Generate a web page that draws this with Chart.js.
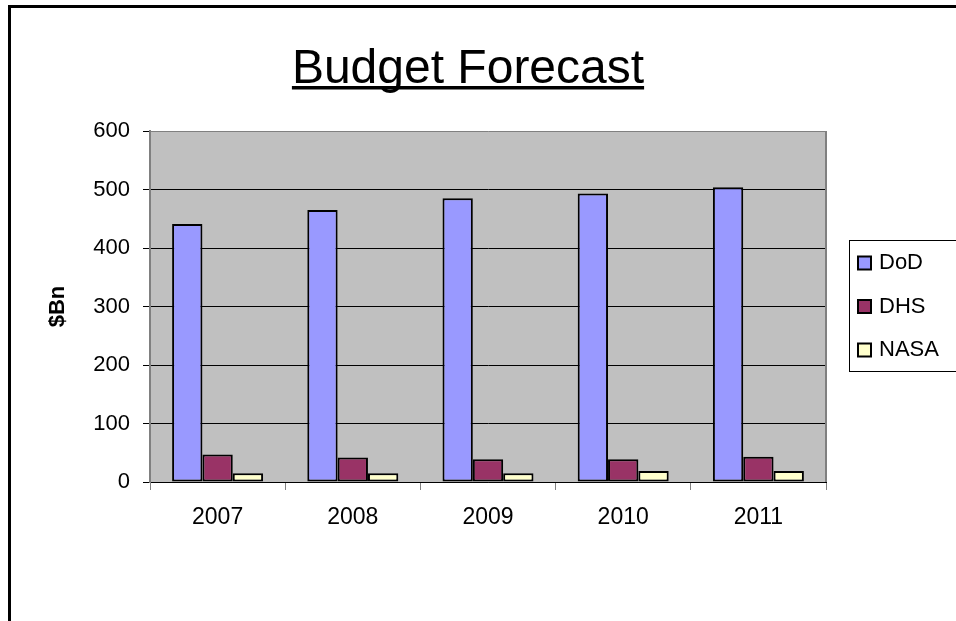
<!DOCTYPE html>
<html>
<head>
<meta charset="utf-8">
<title>Budget Forecast</title>
<script src="https://cdn.jsdelivr.net/npm/chart.js@4.4.1/dist/chart.umd.min.js"></script>
<style>
  html, body { margin: 0; padding: 0; background: #fff; }
  #wrap { position: relative; width: 956px; height: 621px; overflow: hidden; }
  #frame { position: absolute; left: 8px; top: 5px; width: 1000px; height: 700px;
           border-left: 3px solid #000; border-top: 3px solid #000; }
  #budgetChart { position: absolute; left: 0; top: 0; }
</style>
</head>
<body>
<div id="wrap">
  <div id="frame"></div>
  <canvas id="budgetChart" width="956" height="621"></canvas>
</div>
<script>
const years = ['2007', '2008', '2009', '2010', '2011'];
const dodValues = [441, 465, 485, 493, 504];
const dhsValues = [47, 42, 39, 39, 43];
const nasaValues = [15, 15, 15, 19, 19];
const yMin = 0;
const yMax = 600;
const yStep = 100;

const FONT = "'Liberation Sans', Arial, sans-serif";
Chart.defaults.font.family = FONT;
Chart.defaults.color = '#000';

// grey plot area + right border line
const plotArea = {
    id: 'plotArea',
    beforeDraw(chart) {
        const { ctx, chartArea: a } = chart;
        ctx.save();
        ctx.fillStyle = '#c0c0c0';
        ctx.fillRect(a.left, a.top, a.right - a.left, a.bottom - a.top);
        ctx.restore();
    },
    beforeDatasetsDraw(chart) {
        const { ctx, chartArea: a } = chart;
        ctx.save();
        ctx.strokeStyle = '#808080';
        ctx.lineWidth = 2;
        ctx.beginPath();
        ctx.moveTo(a.right, a.top);
        ctx.lineTo(a.right, a.bottom);
        ctx.stroke();
        ctx.restore();
    }
};

// underlined title and boxed legend, drawn like the old Excel chart
const titleAndLegend = {
    id: 'titleAndLegend',
    afterDraw(chart) {
        const ctx = chart.ctx;
        ctx.save();

        const title = 'Budget Forecast';
        ctx.font = '48px ' + FONT;
        ctx.fillStyle = '#000';
        ctx.textAlign = 'center';
        ctx.textBaseline = 'alphabetic';
        ctx.fillText(title, 468, 83);
        const w = ctx.measureText(title).width;
        ctx.fillRect(468 - w / 2, 86, w, 3.5);

        ctx.lineWidth = 1;
        ctx.strokeStyle = '#000';
        ctx.strokeRect(849.5, 240.5, 200, 131);

        ctx.font = '22px ' + FONT;
        ctx.textAlign = 'left';
        ctx.textBaseline = 'middle';
        chart.data.datasets.forEach(function(ds, i) {
            const cy = 263 + i * 43.5;
            ctx.fillStyle = ds.backgroundColor;
            ctx.fillRect(858, cy - 6.5, 13, 13);
            ctx.lineWidth = 2;
            ctx.strokeRect(858, cy - 6.5, 13, 13);
            ctx.fillStyle = '#000';
            ctx.fillText(ds.label, 879, cy);
        });
        ctx.restore();
    }
};

const ctx = document.getElementById('budgetChart').getContext('2d');

const budgetChart = new Chart(ctx, {
    type: 'bar',
    data: {
        labels: years,
        datasets: [
            { label: 'DoD', data: dodValues, backgroundColor: '#9999ff' },
            { label: 'DHS', data: dhsValues, backgroundColor: '#993366' },
            { label: 'NASA', data: nasaValues, backgroundColor: '#ffffcc' }
        ]
    },
    options: {
        responsive: false,
        animation: false,
        layout: { padding: { top: 131, right: 130, bottom: 0, left: 0 } },
        datasets: {
            bar: {
                borderColor: '#000',
                borderWidth: 2,
                borderSkipped: false,
                categoryPercentage: 0.673,
                barPercentage: 1.0
            }
        },
        scales: {
            x: {
                afterFit: function(scale) { scale.height = 139; },
                grid: {
                    display: true,
                    drawOnChartArea: false,
                    color: '#808080',
                    tickLength: 8,
                    offset: true
                },
                border: { color: '#000', width: 1 },
                ticks: { font: { size: 23 }, padding: 14, color: '#000' }
            },
            y: {
                min: yMin,
                max: yMax,
                afterFit: function(scale) { scale.width = 150; },
                ticks: { stepSize: yStep, font: { size: 22 }, padding: 13, color: '#000' },
                grid: {
                    color: function(c) { return c.tick && c.tick.value === yMax ? '#808080' : '#000'; },
                    tickColor: '#000',
                    tickLength: 7,
                    lineWidth: 1
                },
                border: { color: '#808080', width: 2 },
                title: {
                    display: true,
                    text: '$Bn',
                    font: { size: 22, weight: 'bold' },
                    padding: { top: 45, bottom: 0 },
                    color: '#000'
                }
            }
        },
        plugins: {
            legend: { display: false },
            title: { display: false },
            tooltip: { enabled: false }
        }
    },
    plugins: [plotArea, titleAndLegend]
});
</script>
</body>
</html>
